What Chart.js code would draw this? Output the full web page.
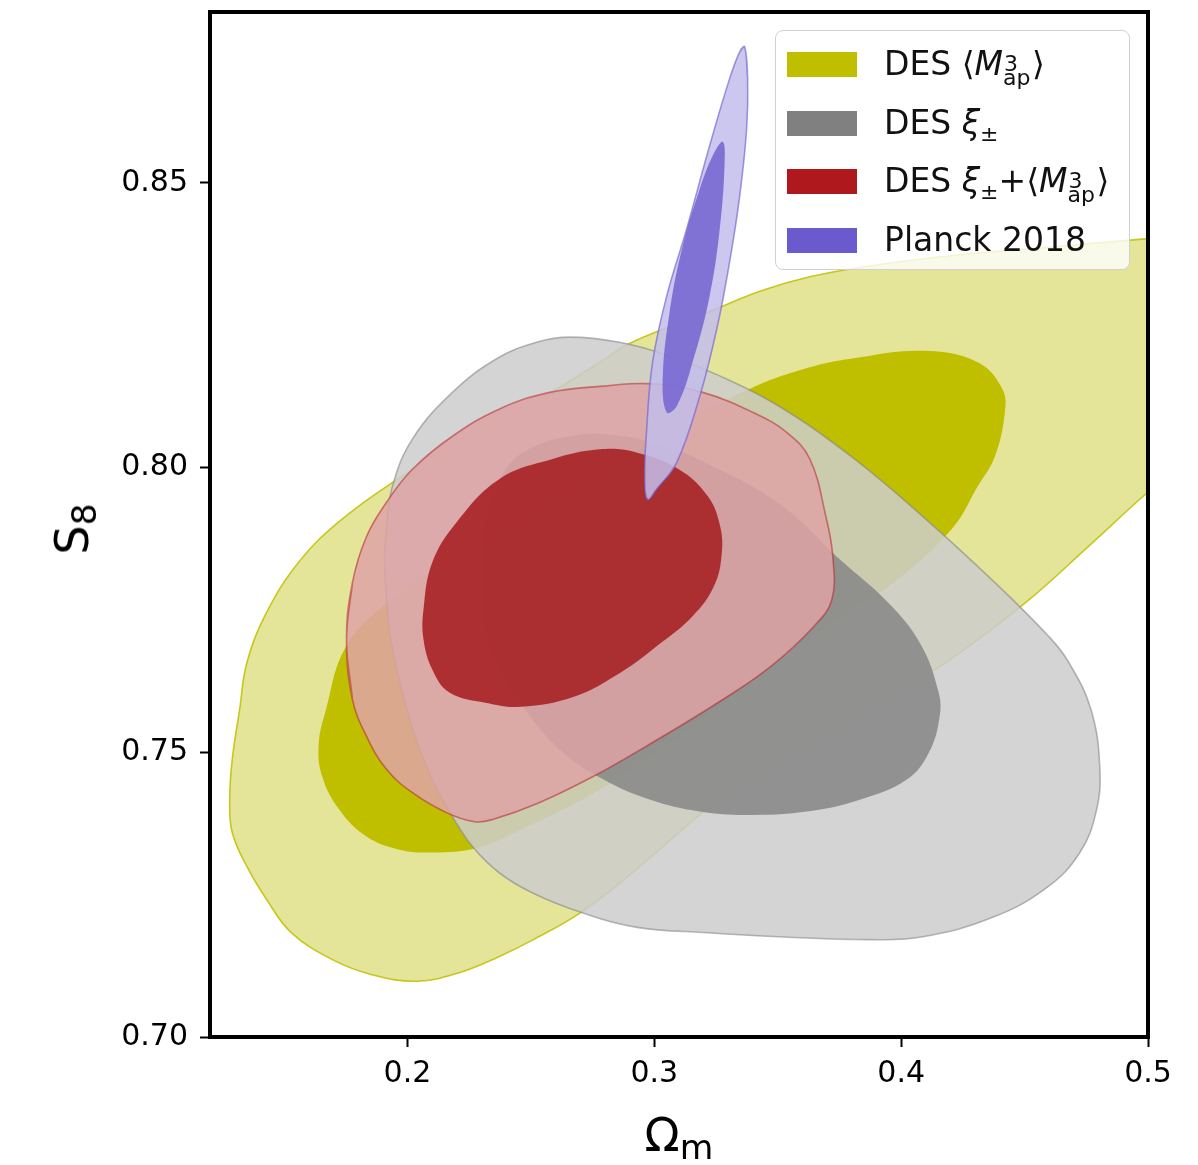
<!DOCTYPE html>
<html>
<head>
<meta charset="UTF-8">
<title>S8 vs Omega_m</title>
<script src="https://cdn.jsdelivr.net/npm/chart.js@4.4.1/dist/chart.umd.min.js"></script>
<style>
  body { margin: 0; background: #fff; font-family: "DejaVu Sans", sans-serif; }
  #wrap { position: relative; width: 1198px; height: 1165px; }
  #legend { position: absolute; background: rgba(255,255,255,0.8); border: 1.5px solid #d0d0d0;
            border-radius: 8px; box-sizing: border-box; }
  .row { position: absolute; left: 0; right: 0; height: 58.5px; line-height: 58.5px; font-size: 33px; color: #111; white-space: nowrap; }
  .sw { position: absolute; left: 11px; top: 17px; width: 70px; height: 25px; }
  .lab { position: absolute; left: 108px; top: 0; }
  .ss { display: inline-block; position: relative; width: 29px; height: 0; font-size: 22px; line-height: 22px; }
  .ss .up { position: absolute; left: 1px; bottom: 0; }
  .ss .dn { position: absolute; left: 0; top: -8px; }
  .pm { font-size: 22px; vertical-align: -7px; line-height: 0; }
  .axt { position: absolute; font-size: 46px; line-height: 1; white-space: nowrap; color: #000; }
  .axt sub { font-size: 0.75em; vertical-align: -0.22em; line-height: 0; }
</style>
</head>
<body>
<div id="wrap">
  <canvas id="chart" width="1198" height="1165"></canvas>
  <div id="legend"></div>
  <div id="xtitle" class="axt">Ω<sub>m</sub></div>
  <div id="ytitle" class="axt">S<sub>8</sub></div>
</div>
<script>
// axis ticks
var omTicks = [0.2, 0.3, 0.4, 0.5];
var s8Ticks = [0.70, 0.75, 0.80, 0.85];

// contour outlines, [Omega_m, S8] pairs
var desMapOuter = [
  [0.521,0.841],[0.500,0.8402],[0.460,0.8387],[0.420,0.8372],[0.387,0.8354],[0.363,0.8335],
  [0.343,0.831],[0.322,0.8273],[0.291,0.822],[0.278,0.8185],[0.258,0.8132],[0.224,0.8055],[0.194,0.7974],
  [0.172,0.7904],[0.156,0.7834],[0.143,0.7746],[0.135,0.7658],[0.132,0.7575],[0.129,0.7487],
  [0.128,0.7417],[0.129,0.7359],[0.135,0.7299],[0.143,0.7241],[0.153,0.7183],[0.170,0.7135],
  [0.186,0.7109],[0.204,0.7098],[0.221,0.7113],[0.237,0.7141],[0.251,0.7171],[0.270,0.7218],
  [0.291,0.7288],[0.310,0.7359],[0.320,0.7396],[0.337,0.7447],[0.360,0.7510],[0.381,0.7563],
  [0.400,0.7610],[0.420,0.7663],[0.451,0.7765],[0.476,0.7862],[0.500,0.7957],[0.521,0.8032]
];
var desMapInner = [
  [0.164,0.7513],[0.167,0.7575],[0.1745,0.7681],[0.1886,0.7751],[0.217,0.7839],[0.2576,0.7936],
  [0.298,0.8045],[0.3386,0.8138],[0.363,0.8176],[0.3796,0.8191],[0.409,0.8205],[0.431,0.8185],
  [0.441,0.8138],[0.442,0.8097],[0.438,0.802],[0.431,0.7967],[0.4205,0.7892],[0.397,0.7798],
  [0.3723,0.7728],[0.3447,0.7649],[0.3184,0.7554],[0.2778,0.7434],[0.2458,0.7364],[0.228,0.7332],
  [0.2101,0.7324],[0.1968,0.7329],[0.1834,0.7352],[0.1724,0.7399],[0.1655,0.7457]
];
var desXiOuter = [
  [0.1907,0.7834],[0.1915,0.7892],[0.1939,0.7967],[0.202,0.805],[0.2182,0.8132],[0.2361,0.8191],
  [0.2523,0.822],[0.2657,0.8229],[0.2859,0.822],[0.3062,0.8196],[0.3265,0.8161],[0.3504,0.8108],
  [0.3796,0.802],[0.4088,0.7914],[0.438,0.7798],[0.4599,0.7703],[0.4676,0.766],[0.4769,0.7575],
  [0.4805,0.747],[0.4789,0.7394],[0.4724,0.7324],[0.4595,0.7264],[0.4376,0.7211],[0.4088,0.7176],
  [0.3869,0.7171],[0.3504,0.7176],[0.3216,0.7183],[0.2924,0.7193],[0.2709,0.7218],[0.2507,0.7253],
  [0.2373,0.7288],[0.2264,0.7334],[0.2182,0.7387],[0.2101,0.7452],[0.2036,0.7522],[0.198,0.7605],
  [0.1927,0.7716]
];
var desXiInner = [
  [0.2304,0.7768],[0.232,0.7909],[0.2365,0.7971],[0.2434,0.8015],[0.2535,0.8041],[0.2657,0.8055],
  [0.2791,0.8059],[0.3022,0.8041],[0.3196,0.8011],[0.3508,0.7936],[0.3751,0.7839],[0.3954,0.776],
  [0.408,0.7689],[0.4149,0.761],[0.4157,0.7566],[0.4112,0.7499],[0.4023,0.7452],[0.3836,0.7417],
  [0.3618,0.7396],[0.337,0.739],[0.3184,0.7396],[0.2981,0.7417],[0.2795,0.7452],[0.2616,0.7505],
  [0.2446,0.7593],[0.2353,0.7663]
];
var jointOuter = [
  [0.1753,0.7698],[0.1777,0.7798],[0.1834,0.7879],[0.1915,0.7939],[0.202,0.7997],[0.2182,0.8055],
  [0.2373,0.8103],[0.2576,0.8132],[0.2791,0.8143],[0.2993,0.8147],[0.3196,0.8132],[0.3399,0.8097],
  [0.3536,0.8062],[0.363,0.8015],[0.3695,0.7914],[0.3723,0.7844],[0.3719,0.7768],[0.3646,0.7721],
  [0.3472,0.7651],[0.3257,0.7587],[0.2965,0.751],[0.275,0.7457],[0.2531,0.7411],[0.2345,0.7382],
  [0.2272,0.7378],[0.2158,0.7394],[0.202,0.7429],[0.1915,0.747],[0.1834,0.7528],[0.1777,0.7593]
];
var jointInner = [
  [0.2065,0.7751],[0.2101,0.7834],[0.2199,0.7904],[0.2373,0.798],[0.2588,0.8015],[0.2778,0.8032],
  [0.2924,0.8027],[0.3099,0.7997],[0.3216,0.795],[0.3265,0.79],[0.3273,0.7848],[0.3241,0.7791],
  [0.3155,0.7739],[0.3009,0.7686],[0.2864,0.764],[0.2677,0.7598],[0.2458,0.758],[0.2316,0.7587],
  [0.217,0.7605],[0.2101,0.7645],[0.2065,0.7698]
];
var planckOuter = [
  [0.3366,0.8739],[0.3378,0.8683],[0.3374,0.8595],[0.3346,0.8477],[0.3305,0.8361],[0.3253,0.8243],
  [0.3184,0.8125],[0.3091,0.8009],[0.3009,0.7962],[0.2973,0.7944],[0.2961,0.798],[0.2969,0.8067],
  [0.2993,0.8185],[0.305,0.8301],[0.3131,0.8419],[0.3224,0.8565],[0.3305,0.8683],[0.3346,0.873]
];
var planckInner = [
  [0.3277,0.8572],[0.3285,0.8537],[0.3265,0.8419],[0.3224,0.8301],[0.3155,0.8185],[0.3091,0.8108],
  [0.305,0.8097],[0.3034,0.8155],[0.3062,0.8273],[0.3115,0.8389],[0.3184,0.8489],[0.3236,0.8547]
];

var up3ap = '<span class="ss"><span class="up">3</span><span class="dn">ap</span></span>';
var seriesNames = [
  'DES ⟨<i>M</i>' + up3ap + '⟩',
  'DES <i>ξ</i><span class="pm">±</span>',
  'DES <i>ξ</i><span class="pm">±</span>+⟨<i>M</i>' + up3ap + '⟩',
  'Planck 2018'
];
var seriesColors = ['rgb(191,191,0)', 'rgb(128,128,128)', 'rgb(175,25,30)', 'rgb(106,90,205)'];

// wrap the outline so every point gets smooth bezier neighbours
function closed(arr) {
  var n = arr.length;
  var seq = [arr[n - 1]].concat(arr, [arr[0], arr[1]]);
  return seq.map(function(p) { return {x: p[0], y: p[1]}; });
}

function contour(arr, fillColor, edgeColor, edgeWidth, order) {
  return {
    data: closed(arr),
    showLine: true,
    fill: 'shape',
    backgroundColor: fillColor,
    borderColor: edgeColor,
    borderWidth: edgeWidth,
    pointRadius: 0,
    tension: 0.4,
    order: order
  };
}

var framePlugin = {
  id: 'frame',
  afterDatasetsDraw: function(chart) {
    var c = chart.ctx, a = chart.chartArea;
    c.save();
    c.strokeStyle = '#000';
    c.lineWidth = 4;
    c.strokeRect(a.left, a.top, a.right - a.left, a.bottom - a.top);
    c.restore();
  }
};

var tickFont = {family: 'DejaVu Sans', size: 30};

var chart = new Chart(document.getElementById('chart').getContext('2d'), {
  type: 'scatter',
  data: {
    datasets: [
      contour(desMapOuter, 'rgb(229,229,153)', 'rgba(191,191,0,0.85)', 1.6, 8),
      contour(desMapInner, 'rgb(191,191,0)', 'rgba(0,0,0,0)', 0, 7),
      contour(desXiOuter, 'rgba(204,204,204,0.85)', 'rgba(128,128,128,0.55)', 1.6, 6),
      contour(desXiInner, 'rgba(134,134,134,0.85)', 'rgba(0,0,0,0)', 0, 5),
      contour(jointOuter, 'rgba(222,163,164,0.85)', 'rgba(175,25,30,0.5)', 1.6, 4),
      contour(jointInner, 'rgba(165,26,29,0.85)', 'rgba(0,0,0,0)', 0, 3),
      contour(planckOuter, 'rgba(195,189,235,0.85)', 'rgba(106,90,205,0.6)', 1.6, 2),
      contour(planckInner, 'rgba(115,100,208,0.85)', 'rgba(0,0,0,0)', 0, 1)
    ]
  },
  options: {
    responsive: false,
    animation: false,
    events: [],
    layout: {padding: {top: 12, right: 50, left: 0, bottom: 0}},
    plugins: {legend: {display: false}, tooltip: {enabled: false}},
    scales: {
      x: {
        type: 'linear', min: 0.12, max: 0.5,
        afterBuildTicks: function(s) { s.ticks = omTicks.map(function(v) { return {value: v}; }); },
        afterFit: function(s) { s.height = 128; s.paddingLeft = 0; s.paddingRight = 0; },
        grid: {drawOnChartArea: false, drawTicks: true, tickLength: 10, tickWidth: 2, tickColor: '#000'},
        border: {display: false},
        ticks: {font: tickFont, color: '#000', padding: 9, maxRotation: 0,
                callback: function(v) { return v.toFixed(1); }}
      },
      y: {
        type: 'linear', min: 0.70, max: 0.88,
        afterBuildTicks: function(s) { s.ticks = s8Ticks.map(function(v) { return {value: v}; }); },
        afterFit: function(s) { s.width = 210; s.paddingTop = 0; s.paddingBottom = 0; },
        grid: {drawOnChartArea: false, drawTicks: true, tickLength: 10, tickWidth: 2, tickColor: '#000'},
        border: {display: false},
        ticks: {font: tickFont, color: '#000', padding: 12,
                callback: function(v) { return v.toFixed(2); }}
      }
    }
  },
  plugins: [framePlugin]
});

// legend and axis titles placed from the chart area
var area = chart.chartArea;
var legend = document.getElementById('legend');
var html = '';
for (var i = 0; i < seriesNames.length; i++) {
  html += '<div class="row" style="top:' + (4 + i * 58.5) + 'px"><span class="sw" style="background:' +
          seriesColors[i] + '"></span><span class="lab">' + seriesNames[i] + '</span></div>';
}
legend.innerHTML = html;
legend.style.width = '355px';
legend.style.height = '240px';
legend.style.left = (area.right - 18 - 355) + 'px';
legend.style.top = (area.top + 18) + 'px';

var xt = document.getElementById('xtitle');
xt.style.left = ((area.left + area.right) / 2) + 'px';
xt.style.top = '1135px';
xt.style.transform = 'translate(-50%,-50%)';

var yt = document.getElementById('ytitle');
yt.style.left = '72px';
yt.style.top = ((area.top + area.bottom) / 2 + 4) + 'px';
yt.style.transform = 'translate(-50%,-50%) rotate(-90deg)';
</script>
</body>
</html>
